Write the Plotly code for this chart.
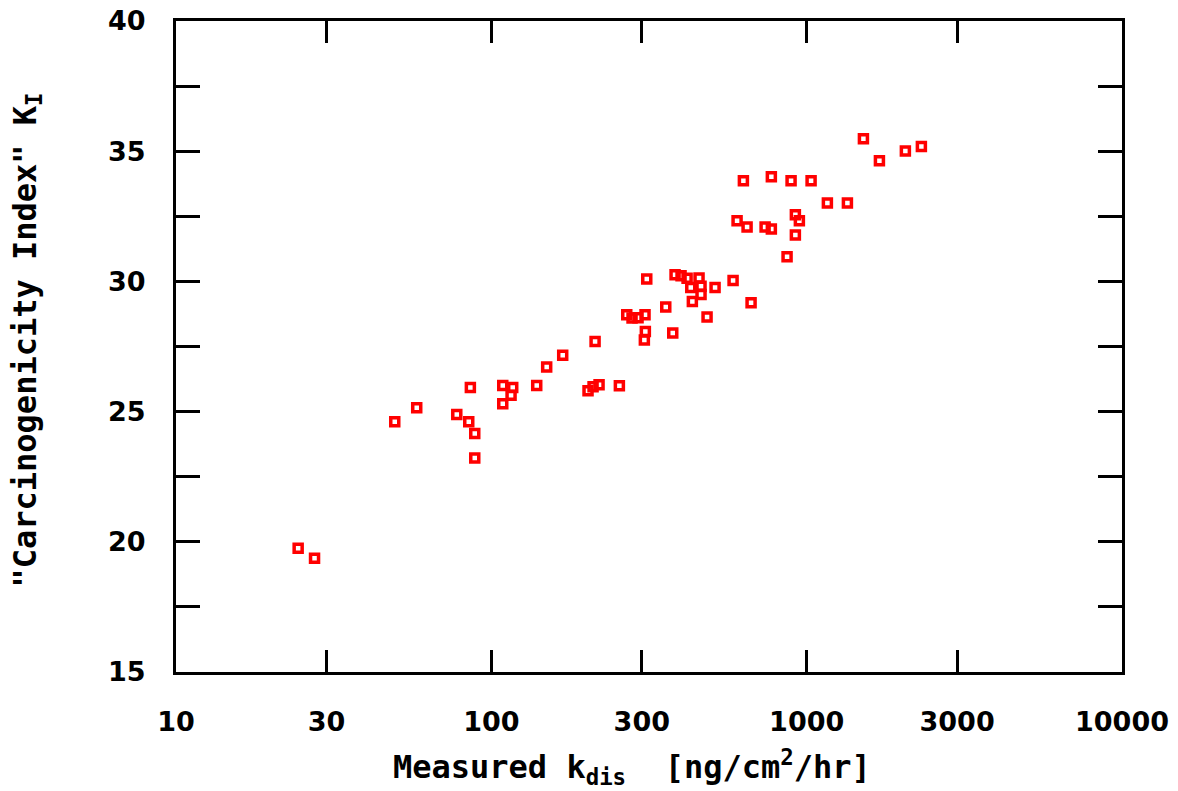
import plotly.graph_objects as go

# Measured dissolution rate k_dis [ng/cm^2/hr]
k_dis = [24.4, 27.5, 49.4, 58.0, 77.7, 85.8, 84.8, 88.6, 88.6,
         108.7, 116.9, 115.5, 108.7, 139.3, 149.8, 168.4, 213.3,
         202.6, 210.2, 219.6, 254.7, 268.8, 279.4, 291.9, 307.2,
         307.9, 305.7, 311.1, 357.4, 376.1,
         382.5, 399.6, 417.6, 455.7, 429.0, 462.4, 462.4, 434.0,
         512.3, 584.3, 483.2, 666.4,
         601.6, 630.0, 647.2, 738.2, 772.7, 772.7, 866.7, 892.4,
         920.8, 948.1, 920.8, 1032.8, 1163.3, 1346.5,
         1513.5, 1701.0, 2056.0, 2311.0]

# "Carcinogenicity Index" K_I
k_index = [19.75, 19.37, 24.61, 25.15, 24.89, 25.93, 24.61, 24.16, 23.22,
           26.00, 25.93, 25.63, 25.30, 26.00, 26.71, 27.16, 27.69,
           25.80, 25.95, 26.03, 25.99, 28.72, 28.59, 28.60, 28.72,
           28.08, 27.75, 30.09, 29.02, 28.02,
           30.26, 30.22, 30.12, 30.13, 29.77, 29.81, 29.50, 29.23,
           29.77, 30.03, 28.63, 29.18,
           32.33, 33.87, 32.09, 32.09, 32.01, 34.02, 30.95, 33.87,
           32.56, 32.33, 31.78, 33.87, 33.01, 33.01,
           35.48, 34.63, 35.01, 35.18]

x_tickvals = [10, 30, 100, 300, 1000, 3000, 10000]
x_ticktext = ["10", "30", "100", "300", "1000", "3000", "10000"]
y_tickvals = [15, 17.5, 20, 22.5, 25, 27.5, 30, 32.5, 35, 37.5, 40]
y_ticktext = ["15", "", "20", "", "25", "", "30", "", "35", "", "40"]

fig = go.Figure()
fig.add_trace(go.Scatter(
    x=k_dis, y=k_index, mode="markers",
    marker=dict(symbol="square-open", size=8, color="#ff0000",
                line=dict(width=3.5, color="#ff0000")),
    showlegend=False,
))

tick_font = dict(family="DejaVu Sans", size=27, color="black", weight="bold")
title_font = dict(family="DejaVu Sans Mono", size=32, color="black", weight="bold")

fig.update_xaxes(
    type="log", range=[1, 4],
    tickvals=x_tickvals, ticktext=x_ticktext,
    ticks="inside", ticklen=22, tickwidth=3, tickcolor="black",
    showline=True, linewidth=3, linecolor="black", mirror="ticks",
    showgrid=False, zeroline=False, automargin=False,
    tickfont=tick_font, ticklabelstandoff=24,
)
fig.update_yaxes(
    range=[15, 40],
    tickvals=y_tickvals, ticktext=y_ticktext,
    ticks="inside", ticklen=24, tickwidth=3, tickcolor="black",
    showline=True, linewidth=3, linecolor="black", mirror="ticks",
    showgrid=False, zeroline=False, automargin=False,
    tickfont=tick_font, ticklabelstandoff=22,
)

fig.add_annotation(
    text="Measured k<sub>dis</sub>  [ng/cm<sup>2</sup>/hr]",
    xref="paper", yref="paper", x=0.482, y=-0.108,
    xanchor="center", yanchor="top", showarrow=False, font=title_font,
)
fig.add_annotation(
    text="\"Carcinogenicity Index\" K<sub>I</sub>",
    xref="paper", yref="paper", x=-0.158, y=0.51,
    xanchor="center", yanchor="middle", textangle=-90,
    showarrow=False, font=title_font,
)

fig.update_layout(
    width=1178, height=791,
    margin=dict(l=176, r=56, t=21, b=119, autoexpand=False),
    paper_bgcolor="white", plot_bgcolor="white",
)

fig.write_html("out.html")
